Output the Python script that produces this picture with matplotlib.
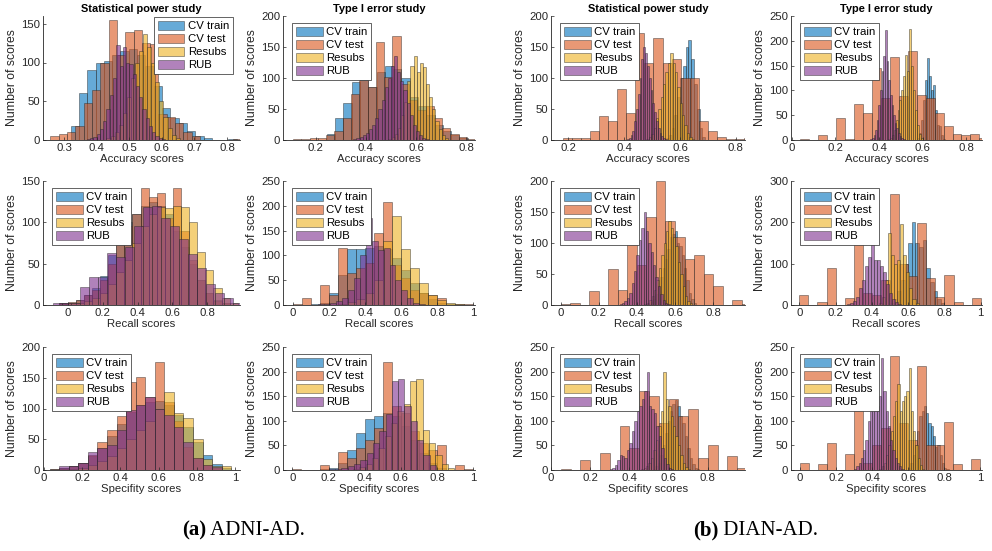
import numpy as np
import matplotlib
matplotlib.use("Agg")
import matplotlib.pyplot as plt
from matplotlib.ticker import MultipleLocator, FuncFormatter

plt.rcParams['font.family'] = ['Liberation Sans', 'DejaVu Sans']

series_names = ["CV train", "CV test", "Resubs", "RUB"]
colors = ["#0072BD", "#D95319", "#EDB120", "#7E2F8E"]

# each histogram: (first bin edge, bin width, counts per bin)
# (a) ADNI-AD, accuracy
a_acc_pow_train = (0.32, 0.0255, [18, 61, 90, 99, 102, 110, 115, 118, 110, 95, 70, 41, 29, 22, 11, 5, 2, 0, 0, 1])
a_acc_pow_test = (0.258, 0.0255, [5, 8, 10, 18, 48, 64, 100, 155, 110, 140, 142, 125, 124, 34, 30, 22, 10, 5, 0, 0, 0, 0, 1])
a_acc_pow_resub = (0.43, 0.0125, [2, 5, 10, 20, 35, 55, 80, 100, 115, 137, 120, 100, 75, 50, 30, 15, 6, 2])
a_acc_pow_rub = (0.37, 0.01, [1, 2, 4, 8, 14, 25, 40, 58, 80, 123, 95, 120, 100, 98, 85, 70, 55, 40, 28, 18, 10, 5, 2, 1])

a_acc_t1_train = (0.245, 0.033, [10, 35, 60, 93, 100, 85, 110, 120, 115, 100, 70, 55, 40, 25, 15, 8, 3])
a_acc_t1_test = (0.11, 0.033, [2, 2, 3, 3, 8, 15, 35, 75, 97, 85, 158, 102, 168, 90, 65, 48, 55, 35, 20, 10, 5, 2])
a_acc_t1_resub = (0.49, 0.0125, [2, 5, 10, 20, 40, 62, 95, 120, 135, 110, 125, 118, 90, 70, 50, 30, 18, 8, 3])
a_acc_t1_rub = (0.35, 0.0125, [1, 3, 5, 8, 12, 18, 25, 35, 50, 65, 85, 100, 120, 135, 110, 95, 80, 60, 40, 25, 15, 8, 4, 2])

# (b) DIAN-AD, accuracy
b_acc_pow_train = (0.55, 0.01, [3, 8, 20, 40, 70, 100, 120, 150, 162, 130, 90, 50, 20, 5])
b_acc_pow_test = (0.18, 0.0325, [4, 3, 3, 15, 38, 30, 82, 43, 172, 125, 165, 125, 130, 100, 100, 30, 15, 5, 2, 1, 3])
b_acc_pow_resub = (0.48, 0.0085, [2, 5, 10, 20, 35, 50, 70, 90, 110, 125, 140, 125, 110, 85, 60, 40, 25, 12, 5, 2])
b_acc_pow_rub = (0.41, 0.0065, [1, 3, 8, 15, 30, 50, 75, 100, 130, 150, 140, 120, 100, 80, 60, 45, 30, 20, 12, 6, 3, 1])

b_acc_t1_train = (0.575, 0.009, [5, 15, 40, 80, 120, 165, 130, 100, 110, 60, 30, 28, 10, 3])
b_acc_t1_test = (0.04, 0.041, [3, 0, 10, 0, 45, 2, 72, 55, 145, 84, 168, 88, 180, 90, 85, 55, 28, 12, 10, 13, 5])
b_acc_t1_resub = (0.44, 0.009, [2, 5, 10, 20, 40, 60, 80, 100, 130, 171, 140, 223, 150, 100, 60, 30, 12, 4])
b_acc_t1_rub = (0.36, 0.0075, [2, 5, 10, 20, 40, 70, 100, 140, 170, 222, 160, 120, 90, 70, 50, 35, 25, 15, 8, 4, 2])

# recall
a_rec_pow_train = (-0.05, 0.0467, [2, 3, 6, 12, 20, 35, 60, 80, 100, 110, 120, 125, 120, 110, 90, 70, 50, 30, 15, 6, 2])
a_rec_pow_test = (-0.05, 0.0467, [2, 4, 6, 12, 18, 30, 50, 75, 95, 110, 141, 131, 136, 105, 141, 90, 55, 30, 15, 5, 2])
a_rec_pow_resub = (-0.05, 0.0467, [1, 2, 3, 5, 8, 15, 25, 40, 55, 75, 95, 110, 118, 117, 120, 118, 100, 64, 42, 20, 8, 3])
a_rec_pow_rub = (-0.09, 0.052, [2, 3, 3, 22, 34, 34, 63, 58, 70, 95, 118, 120, 105, 95, 80, 62, 45, 25, 15, 8, 3])

a_rec_t1_train = (0.1, 0.05, [2, 5, 25, 60, 113, 113, 115, 118, 112, 95, 70, 45, 25, 12, 5, 2])
a_rec_t1_test = (0.0, 0.05, [2, 15, 0, 40, 20, 115, 65, 75, 85, 145, 207, 80, 55, 30, 25, 20, 15, 0, 3, 3])
a_rec_t1_resub = (0.2, 0.05, [1, 3, 6, 12, 25, 50, 130, 180, 113, 75, 45, 20, 10, 4, 2])
a_rec_t1_rub = (0.14, 0.033, [2, 3, 5, 8, 15, 30, 55, 100, 175, 130, 110, 115, 80, 50, 30, 15, 5, 2])

b_rec_pow_train = (0.46, 0.0125, [2, 5, 10, 18, 30, 45, 60, 75, 90, 110, 115, 120, 100, 95, 80, 60, 40, 20, 10, 4])
b_rec_pow_test = (0.0, 0.05, [2, 3, 0, 22, 0, 58, 25, 100, 65, 142, 200, 135, 110, 75, 80, 50, 30, 0, 8, 2])
b_rec_pow_resub = (0.44, 0.0125, [2, 4, 8, 15, 25, 40, 60, 80, 100, 120, 135, 125, 110, 95, 70, 50, 30, 15, 6, 3])
b_rec_pow_rub = (0.31, 0.0125, [2, 4, 6, 12, 20, 35, 55, 80, 105, 125, 150, 120, 100, 85, 65, 45, 30, 18, 8, 4, 2])

b_rec_t1_train = (0.5, 0.02, [5, 15, 35, 60, 100, 150, 202, 150, 140, 157, 90, 55, 35, 15, 5])
b_rec_t1_test = (0.0, 0.05, [23, 0, 8, 90, 0, 18, 150, 30, 25, 60, 268, 100, 70, 198, 65, 20, 72, 8, 0, 18])
b_rec_t1_resub = (0.44, 0.0167, [5, 20, 60, 175, 120, 100, 110, 197, 120, 80, 40, 15, 5])
b_rec_t1_rub = (0.26, 0.0167, [2, 5, 10, 20, 40, 60, 95, 115, 215, 110, 108, 95, 80, 50, 30, 15, 8, 3])

# specificity
a_spe_pow_train = (0.03, 0.05, [1, 3, 6, 12, 22, 35, 55, 75, 95, 105, 110, 112, 105, 90, 70, 45, 25, 10, 3])
a_spe_pow_test = (0.03, 0.05, [2, 3, 6, 12, 25, 45, 65, 87, 143, 152, 118, 176, 110, 80, 38, 20, 8, 3])
a_spe_pow_resub = (0.08, 0.05, [1, 2, 4, 8, 14, 22, 35, 50, 65, 80, 100, 127, 93, 85, 50, 18, 7, 7])
a_spe_pow_rub = (0.08, 0.05, [7, 7, 12, 30, 35, 40, 65, 97, 105, 118, 100, 90, 70, 45, 20, 8, 5])

a_spe_t1_train = (0.15, 0.05, [2, 5, 15, 40, 75, 103, 110, 115, 110, 90, 60, 35, 15, 5])
a_spe_t1_test = (0.0, 0.05, [3, 0, 0, 10, 0, 37, 25, 44, 60, 85, 220, 130, 115, 80, 55, 40, 50, 0, 10, 3])
a_spe_t1_resub = (0.3, 0.035, [1, 3, 6, 12, 25, 45, 70, 95, 120, 135, 180, 185, 82, 55, 30, 12, 5])
a_spe_t1_rub = (0.2, 0.035, [2, 3, 5, 8, 12, 20, 35, 55, 80, 113, 180, 185, 130, 100, 60, 30, 10])

b_spe_pow_train = (0.52, 0.0125, [3, 8, 15, 30, 50, 75, 100, 120, 135, 143, 130, 110, 95, 70, 45, 25, 12, 5, 2])
b_spe_pow_test = (0.0, 0.05, [0, 3, 0, 20, 0, 35, 0, 90, 45, 160, 150, 95, 145, 110, 123, 25, 50, 0, 28, 5])
b_spe_pow_resub = (0.46, 0.0125, [2, 4, 8, 15, 25, 40, 60, 90, 120, 200, 145, 130, 110, 90, 70, 50, 30, 15, 6, 3])
b_spe_pow_rub = (0.3, 0.0125, [2, 5, 10, 20, 30, 28, 25, 40, 55, 80, 100, 120, 130, 145, 160, 200, 130, 125, 115, 90, 70, 45, 25, 12, 5, 2])

b_spe_t1_train = (0.6, 0.0125, [5, 15, 30, 50, 80, 110, 120, 130, 115, 95, 90, 70, 47, 50, 30, 15, 5, 2])
b_spe_t1_test = (0.0, 0.05, [15, 0, 13, 55, 0, 33, 130, 15, 50, 85, 232, 95, 60, 212, 50, 50, 98, 13, 0, 22])
b_spe_t1_resub = (0.44, 0.0125, [3, 8, 15, 30, 50, 80, 110, 140, 175, 120, 140, 150, 160, 208, 120, 80, 50, 25, 10, 3])
b_spe_t1_rub = (0.3, 0.0125, [3, 8, 15, 25, 40, 60, 100, 120, 175, 140, 130, 150, 227, 160, 120, 90, 60, 40, 25, 15, 8, 3])

panels = [
    # row, col, hists, xlabel, title, xlim, xstep, ylim, legend on right
    (0, 0, [a_acc_pow_train, a_acc_pow_test, a_acc_pow_resub, a_acc_pow_rub], "Accuracy scores", "Statistical power study", (0.235, 0.84), 0.1, 160, True),
    (0, 1, [a_acc_t1_train, a_acc_t1_test, a_acc_t1_resub, a_acc_t1_rub], "Accuracy scores", "Type I error study", (0.07, 0.835), 0.2, 200, False),
    (0, 2, [b_acc_pow_train, b_acc_pow_test, b_acc_pow_resub, b_acc_pow_rub], "Accuracy scores", "Statistical power study", (0.138, 0.833), 0.2, 200, False),
    (0, 3, [b_acc_t1_train, b_acc_t1_test, b_acc_t1_resub, b_acc_t1_rub], "Accuracy scores", "Type I error study", (-0.003, 0.872), 0.2, 250, False),
    (1, 0, [a_rec_pow_train, a_rec_pow_test, a_rec_pow_resub, a_rec_pow_rub], "Recall scores", None, (-0.145, 0.99), 0.2, 150, False),
    (1, 1, [a_rec_t1_train, a_rec_t1_test, a_rec_t1_resub, a_rec_t1_rub], "Recall scores", None, (-0.055, 1.01), 0.2, 250, False),
    (1, 2, [b_rec_pow_train, b_rec_pow_test, b_rec_pow_resub, b_rec_pow_rub], "Recall scores", None, (-0.05, 0.967), 0.2, 200, False),
    (1, 3, [b_rec_t1_train, b_rec_t1_test, b_rec_t1_resub, b_rec_t1_rub], "Recall scores", None, (-0.046, 1.007), 0.2, 300, False),
    (2, 0, [a_spe_pow_train, a_spe_pow_test, a_spe_pow_resub, a_spe_pow_rub], "Specifity scores", None, (-0.005, 1.026), 0.2, 200, False),
    (2, 1, [a_spe_t1_train, a_spe_t1_test, a_spe_t1_resub, a_spe_t1_rub], "Specifity scores", None, (-0.052, 1.01), 0.2, 250, False),
    (2, 2, [b_spe_pow_train, b_spe_pow_test, b_spe_pow_resub, b_spe_pow_rub], "Specifity scores", None, (0.0, 0.99), 0.2, 250, False),
    (2, 3, [b_spe_t1_train, b_spe_t1_test, b_spe_t1_resub, b_spe_t1_rub], "Specifity scores", None, (-0.05, 1.01), 0.2, 250, False),
]

W, H = 992, 551
fig = plt.figure(figsize=(W / 100, H / 100), dpi=100)

col_px = [(43, 240), (283, 475), (551, 745), (791, 982)]
row_px = [(16, 140), (181, 305), (347, 470)]
dark = "#262626"

for r, c, hists, xlabel, title, xlim, xstep, ytop, leg_right in panels:
    x0, x1 = col_px[c]
    y0, y1 = row_px[r]
    ax = fig.add_axes([x0 / W, 1 - y1 / H, (x1 - x0) / W, (y1 - y0) / H])
    handles = []
    for (start, width, counts), color, name in zip(hists, colors, series_names):
        edges = start + width * np.arange(len(counts) + 1)
        _, _, patches = ax.hist(edges[:-1] + width / 2, bins=edges, weights=counts,
                                color=color, alpha=0.6, edgecolor=dark, linewidth=0.5, label=name)
        handles.append(patches[0])
    ax.set_xlim(*xlim)
    ax.set_ylim(0, ytop)
    ax.xaxis.set_major_locator(MultipleLocator(xstep))
    ax.yaxis.set_major_locator(MultipleLocator(100 if ytop == 300 else 50))
    ax.xaxis.set_major_formatter(FuncFormatter(lambda v, p: f"{round(v, 2):g}"))
    for s in ["top", "right"]:
        ax.spines[s].set_visible(False)
    for s in ["left", "bottom"]:
        ax.spines[s].set_color(dark)
        ax.spines[s].set_linewidth(0.6)
    ax.tick_params(direction="in", length=2.5, width=0.5, labelsize=8.2, colors=dark, pad=2)
    ax.set_xlabel(xlabel, fontsize=8.2, color=dark, labelpad=1)
    ax.set_ylabel("Number of scores", fontsize=8.8, color=dark, labelpad=2)
    if title:
        ax.set_title(title, fontsize=7.9, fontweight="bold", pad=3)
    aw, ah = x1 - x0, y1 - y0
    if leg_right:
        anchor, loc = (1 - 7 / aw, 1 - 1 / ah), "upper right"
    else:
        anchor, loc = (9 / aw, 1 - 7 / ah), "upper left"
    leg = ax.legend(handles, series_names, loc=loc, bbox_to_anchor=anchor, borderaxespad=0,
                    fontsize=8.2, fancybox=False, framealpha=1, edgecolor=dark,
                    handlelength=2.35, handleheight=0.85, labelspacing=0.22,
                    borderpad=0.35, handletextpad=0.3)
    leg.get_frame().set_linewidth(0.5)

serif = ['Liberation Serif', 'DejaVu Serif']
for label, name, xc in [("(a)", " ADNI-AD.", 182), ("(b)", " DIAN-AD.", 693)]:
    t = fig.text(xc / W, 1 - 535 / H, label, fontsize=15, fontweight="bold", family=serif, va="baseline")
    fig.axes[0].annotate(name, xy=(1, 0), xycoords=t, va="bottom", ha="left",
                         fontsize=15, family=serif, annotation_clip=False)

fig.savefig("out.png", dpi=100)
